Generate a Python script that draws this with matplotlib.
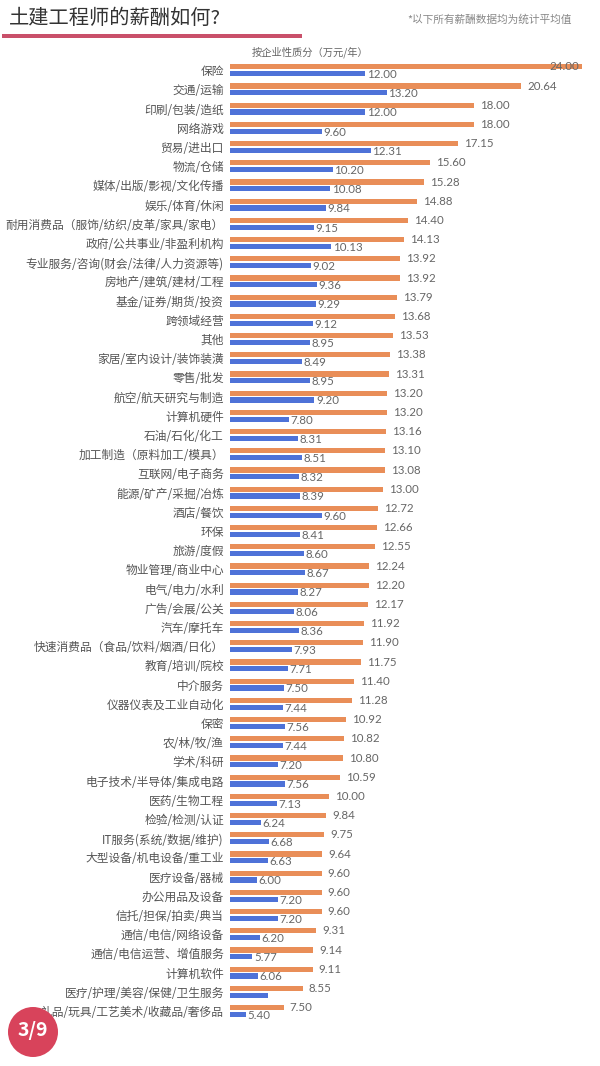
import matplotlib
matplotlib.use("Agg")
import matplotlib.pyplot as plt
from matplotlib.patches import Circle, Rectangle

plt.rcParams['font.family'] = ['Noto Sans CJK SC', 'DejaVu Sans']

categories = [
    "保险", "交通/运输", "印刷/包装/造纸", "网络游戏", "贸易/进出口", "物流/仓储",
    "媒体/出版/影视/文化传播", "娱乐/体育/休闲", "耐用消费品（服饰/纺织/皮革/家具/家电）",
    "政府/公共事业/非盈利机构", "专业服务/咨询(财会/法律/人力资源等)", "房地产/建筑/建材/工程",
    "基金/证券/期货/投资", "跨领域经营", "其他", "家居/室内设计/装饰装潢", "零售/批发",
    "航空/航天研究与制造", "计算机硬件", "石油/石化/化工", "加工制造（原料加工/模具）",
    "互联网/电子商务", "能源/矿产/采掘/冶炼", "酒店/餐饮", "环保", "旅游/度假",
    "物业管理/商业中心", "电气/电力/水利", "广告/会展/公关", "汽车/摩托车",
    "快速消费品（食品/饮料/烟酒/日化）", "教育/培训/院校", "中介服务", "仪器仪表及工业自动化",
    "保密", "农/林/牧/渔", "学术/科研", "电子技术/半导体/集成电路", "医药/生物工程",
    "检验/检测/认证", "IT服务(系统/数据/维护)", "大型设备/机电设备/重工业", "医疗设备/器械",
    "办公用品及设备", "信托/担保/拍卖/典当", "通信/电信/网络设备", "通信/电信运营、增值服务",
    "计算机软件", "医疗/护理/美容/保健/卫生服务", "礼品/玩具/工艺美术/收藏品/奢侈品",
]
orange_values = [
    24.00, 20.64, 18.00, 18.00, 17.15, 15.60, 15.28, 14.88, 14.40, 14.13,
    13.92, 13.92, 13.79, 13.68, 13.53, 13.38, 13.31, 13.20, 13.20, 13.16,
    13.10, 13.08, 13.00, 12.72, 12.66, 12.55, 12.24, 12.20, 12.17, 11.92,
    11.90, 11.75, 11.40, 11.28, 10.92, 10.82, 10.80, 10.59, 10.00, 9.84,
    9.75, 9.64, 9.60, 9.60, 9.60, 9.31, 9.14, 9.11, 8.55, 7.50,
]
blue_values = [
    12.00, 13.20, 12.00, 9.60, 12.31, 10.20, 10.08, 9.84, 9.15, 10.13,
    9.02, 9.36, 9.29, 9.12, 8.95, 8.49, 8.95, 9.20, 7.80, 8.31,
    8.51, 8.32, 8.39, 9.60, 8.41, 8.60, 8.67, 8.27, 8.06, 8.36,
    7.93, 7.71, 7.50, 7.44, 7.56, 7.44, 7.20, 7.56, 7.13, 6.24,
    6.68, 6.63, 6.00, 7.20, 7.20, 6.20, 5.77, 6.06, 6.64, 5.40,
]
hidden_blue_labels = ["医疗/护理/美容/保健/卫生服务"]

title = "土建工程师的薪酬如何?"
note = "*以下所有薪酬数据均为统计平均值"
chart_title = "按企业性质分（万元/年）"
badge = "3/9"

W, H = 600, 1066
fig = plt.figure(figsize=(W / 100, H / 100), dpi=100)
fig.patch.set_facecolor("white")

def fx(px):
    return px / W

def fy(py):
    return 1 - py / H

ORANGE = "#E98E58"
BLUE = "#4E72D8"

n = len(categories)
pitch = 19.2
row0 = 70.2
top_px = row0 - pitch / 2
bot_px = row0 + (n - 1) * pitch + pitch / 2
ax_left_px = 229.5
scale = 18.08  # px per unit
xmin = 4.5
xmax = xmin + (W - ax_left_px) / scale

ax = fig.add_axes([fx(ax_left_px), fy(bot_px), 1 - fx(ax_left_px), (bot_px - top_px) / H])
ax.set_xlim(xmin, xmax)
ax.set_ylim(n - 0.5, -0.5)

ys = list(range(n))
off = 0.175
h = 0.265
ax.barh([y - off for y in ys], [v - xmin for v in orange_values], left=xmin,
        height=h, color=ORANGE)
ax.barh([y + off for y in ys], [v - xmin for v in blue_values], left=xmin,
        height=h, color=BLUE)

lab_color = "#666666"
num_font = ['Lato', 'DejaVu Sans']
for y, v in zip(ys, orange_values):
    if v + 2.0 > xmax:
        ax.text(v - 0.15, y - off, f"{v:.2f}", ha="right", va="center",
                fontsize=8.3, color=lab_color, family=num_font)
    else:
        ax.text(v + 0.33, y - off, f"{v:.2f}", ha="left", va="center",
                fontsize=8.3, color=lab_color, family=num_font)
for y, v, c in zip(ys, blue_values, categories):
    if c in hidden_blue_labels:
        continue
    ax.text(v + 0.08, y + off + 0.05, f"{v:.2f}", ha="left", va="center",
            fontsize=8.3, color=lab_color, family=num_font)

ax.set_yticks(ys)
ax.set_yticklabels(categories, fontsize=8.45, color="#555555")
ax.tick_params(axis="y", length=0, pad=4)
ax.set_xticks([])
for s in ax.spines.values():
    s.set_visible(False)

# header
fig.text(fx(9), fy(18), title, fontsize=14.6, color="#333333", ha="left", va="center")
fig.add_artist(Rectangle((fx(2), fy(38)), fx(300), 4 / H, transform=fig.transFigure,
                         color="#C9506A", lw=0))
fig.text(fx(572), fy(20), note, fontsize=7.7, color="#888888", ha="right", va="center")
fig.text(fx(310), fy(52), chart_title, fontsize=7.4, color="#666666", ha="center", va="center")

# badge
bax = fig.add_axes([0, 0, 1, 1], facecolor="none")
bax.set_xlim(0, W)
bax.set_ylim(H, 0)
bax.axis("off")
bax.add_patch(Circle((33, 1032), 25, color="#D8435B", lw=0))
bax.text(33, 1031, badge, fontsize=14, color="white", fontweight="bold",
         style="italic", ha="center", va="center")

fig.savefig("out.png", dpi=100, facecolor="white")
